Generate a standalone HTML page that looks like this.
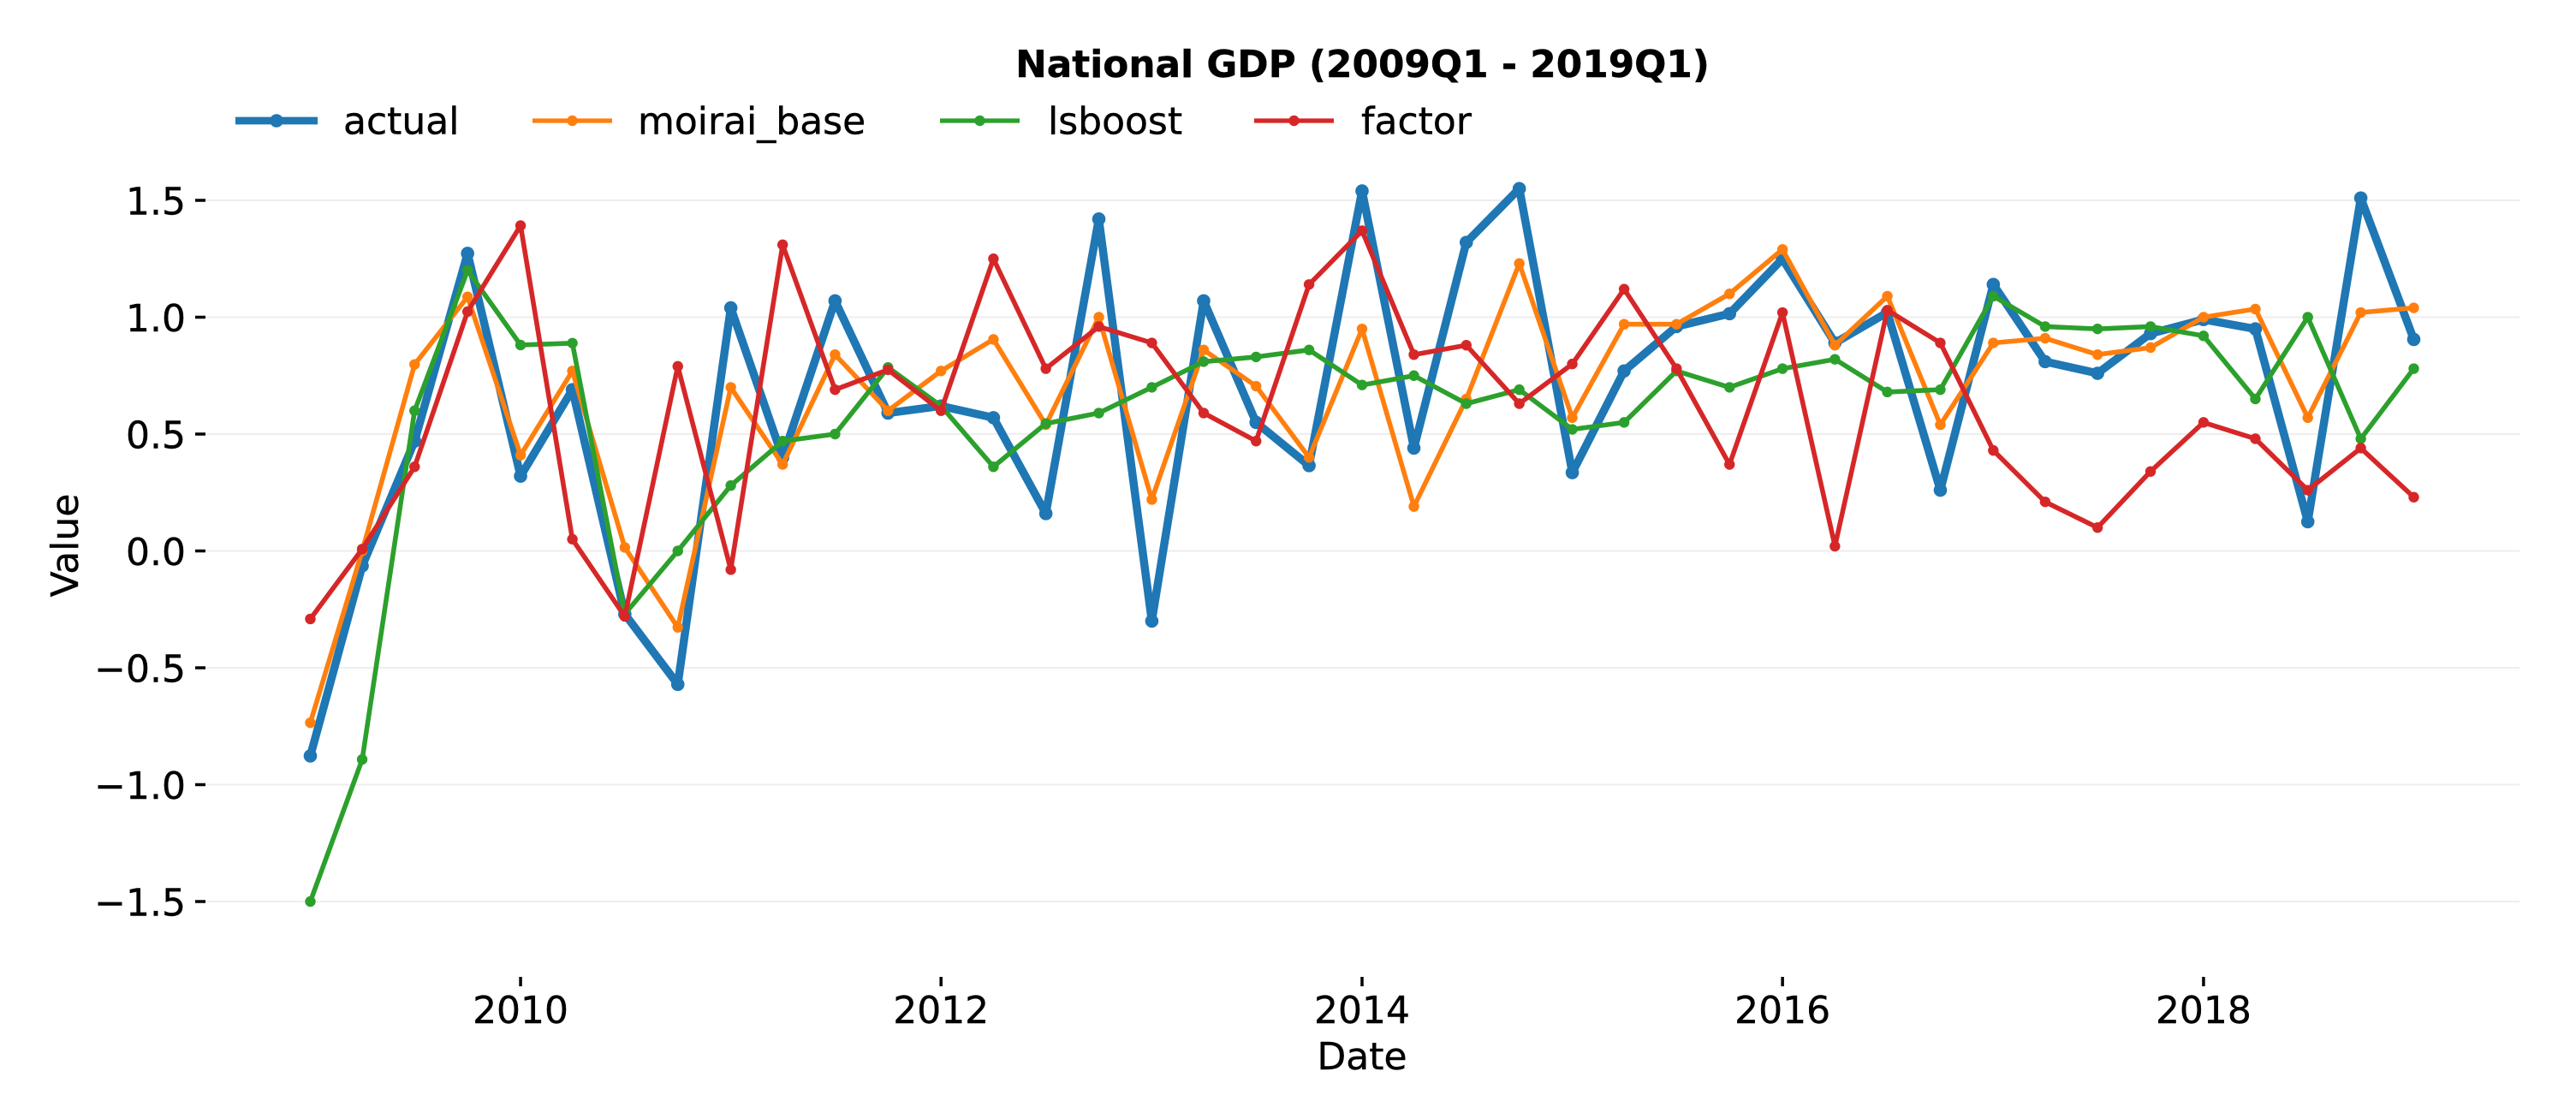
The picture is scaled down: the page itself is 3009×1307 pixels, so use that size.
<!DOCTYPE html>
<html lang="en">
<head>
<meta charset="utf-8">
<title>National GDP (2009Q1 - 2019Q1)</title>
<style>
html,body{margin:0;padding:0;background:#fff;}
body{width:3009px;height:1307px;overflow:hidden;}
svg{display:block;}
text{font-family:"DejaVu Sans","Liberation Sans",sans-serif;fill:#000;stroke:#000;stroke-width:0.4px;}
</style>
</head>
<body>
<svg id="chart" xmlns="http://www.w3.org/2000/svg" width="3009" height="1307" viewBox="0 0 3009 1307">
  <rect x="0" y="0" width="3009" height="1307" fill="#ffffff"/>
  <g id="grid"></g>
  <g id="yticks"></g>
  <g id="xticks"></g>
  <g id="series"></g>
  <text x="1591.5" y="90" font-size="43.8" font-weight="700" text-anchor="middle">National GDP (2009Q1 - 2019Q1)</text>
  <text transform="translate(91,637) rotate(-90)" font-size="44" text-anchor="middle">Value</text>
  <text x="1591" y="1249" font-size="44" text-anchor="middle">Date</text>
  <g id="legend"></g>
</svg>
<script>
const dates = ["2009-01-01","2009-04-01","2009-07-01","2009-10-01","2010-01-01","2010-04-01","2010-07-01","2010-10-01","2011-01-01","2011-04-01","2011-07-01","2011-10-01","2012-01-01","2012-04-01","2012-07-01","2012-10-01","2013-01-01","2013-04-01","2013-07-01","2013-10-01","2014-01-01","2014-04-01","2014-07-01","2014-10-01","2015-01-01","2015-04-01","2015-07-01","2015-10-01","2016-01-01","2016-04-01","2016-07-01","2016-10-01","2017-01-01","2017-04-01","2017-07-01","2017-10-01","2018-01-01","2018-04-01","2018-07-01","2018-10-01","2019-01-01"];
const actual = [-0.877,-0.064,0.47,1.273,0.32,0.69,-0.27,-0.571,1.04,0.40,1.07,0.59,0.62,0.57,0.16,1.42,-0.30,1.07,0.55,0.365,1.54,0.44,1.32,1.55,0.335,0.77,0.96,1.015,1.25,0.89,1.02,0.26,1.14,0.81,0.76,0.93,0.99,0.95,0.125,1.51,0.905];
const moiraiBase = [-0.735,0.00,0.798,1.087,0.41,0.77,0.015,-0.327,0.70,0.37,0.84,0.60,0.77,0.905,0.54,1.00,0.22,0.86,0.705,0.40,0.95,0.19,0.65,1.23,0.57,0.97,0.97,1.10,1.29,0.88,1.09,0.54,0.89,0.91,0.84,0.87,1.00,1.035,0.57,1.02,1.04];
const lsboost = [-1.50,-0.892,0.60,1.20,0.881,0.889,-0.27,0.00,0.28,0.47,0.50,0.785,0.62,0.36,0.545,0.59,0.70,0.81,0.83,0.86,0.71,0.75,0.63,0.69,0.52,0.55,0.77,0.70,0.78,0.82,0.68,0.69,1.09,0.96,0.95,0.96,0.92,0.65,1.00,0.48,0.78];
const factor = [-0.291,0.008,0.36,1.024,1.392,0.05,-0.28,0.79,-0.08,1.31,0.69,0.775,0.60,1.25,0.78,0.96,0.89,0.59,0.47,1.14,1.37,0.84,0.88,0.63,0.80,1.12,0.78,0.37,1.02,0.02,1.03,0.89,0.43,0.21,0.10,0.34,0.55,0.48,0.26,0.44,0.23];
const yTicks = [-1.5,-1.0,-0.5,0.0,0.5,1.0,1.5];
const xTickDates = ["2010-01-01","2012-01-01","2014-01-01","2016-01-01","2018-01-01"];
const xTickLabels = ["2010","2012","2014","2016","2018"];

const NS = "http://www.w3.org/2000/svg";
const T0 = Date.parse("2009-01-01");
const T1 = Date.parse("2019-01-01");
function xScale(d){ return 362.5 + (Date.parse(d) - T0) / (T1 - T0) * (2819.5 - 362.5); }
function yScale(v){ return 643.5 - v * 273; }
function yFmt(v){ return (v < 0 ? "\u2212" : "") + Math.abs(v).toFixed(1); }
function mk(tag, attrs, parent){
  const el = document.createElementNS(NS, tag);
  for (const k in attrs) el.setAttribute(k, attrs[k]);
  parent.appendChild(el);
  return el;
}

const gridG = document.getElementById("grid");
const yG = document.getElementById("yticks");
const xG = document.getElementById("xticks");
const seriesG = document.getElementById("series");
const legendG = document.getElementById("legend");

yTicks.forEach(function(v){
  const y = yScale(v);
  const g = mk("line", {x1:240, x2:2943, y1:y, y2:y, stroke:"#eeeeee", "stroke-width":2}, gridG);
  
  
  const t = mk("line", {x1:228, x2:240, y1:y, y2:y, stroke:"#000", "stroke-width":3.5}, yG);
  
  
  const l = mk("text", {x:217, y:y + 16.5, "font-size":44, "text-anchor":"end"}, yG);
  
  
  l.textContent = yFmt(v);
});

xTickDates.forEach(function(d, i){
  const x = xScale(d);
  const t = mk("line", {x1:x, x2:x, y1:1141, y2:1152, stroke:"#000", "stroke-width":3.5}, xG);
  
  
  const l = mk("text", {x:x, y:1195, "font-size":44, "text-anchor":"middle"}, xG);
  
  
  l.textContent = xTickLabels[i];
});

const seriesList = [
  {name:"actual", values:actual, color:"#1f77b4", lw:9.5, r:7.8, llw:8.8, hx:275, hw:96, tx:401},
  {name:"moirai_base", values:moiraiBase, color:"#ff7f0e", lw:5.6, r:6.2, llw:5.2, hx:622, hw:93, tx:745},
  {name:"lsboost", values:lsboost, color:"#2ca02c", lw:5.6, r:6.2, llw:5.2, hx:1098, hw:93, tx:1224},
  {name:"factor", values:factor, color:"#d62728", lw:5.6, r:6.2, llw:5.2, hx:1465, hw:93, tx:1590}
];

seriesList.forEach(function(s){
  const g = mk("g", {}, seriesG);
  
  
  const pts = s.values.map(function(v, i){ return xScale(dates[i]).toFixed(1) + "," + yScale(v).toFixed(1); }).join(" ");
  const line = mk("polyline", {points:pts, fill:"none", stroke:s.color, "stroke-width":s.lw, "stroke-linejoin":"round", "stroke-linecap":"butt"}, g);
  
  
  s.values.forEach(function(v, i){
    const c = mk("circle", {cx:xScale(dates[i]), cy:yScale(v), r:s.r, fill:s.color}, g);
    
    
  });

  const e = mk("g", {}, legendG);
  
  
  mk("line", {x1:s.hx, x2:s.hx + s.hw, y1:141, y2:141, stroke:s.color, "stroke-width":s.llw}, e);
  mk("circle", {cx:s.hx + s.hw / 2, cy:141, r:s.r, fill:s.color}, e);
  const lt = mk("text", {x:s.tx, y:156.5, "font-size":44}, e);
  lt.textContent = s.name;
});
</script>
</body>
</html>
